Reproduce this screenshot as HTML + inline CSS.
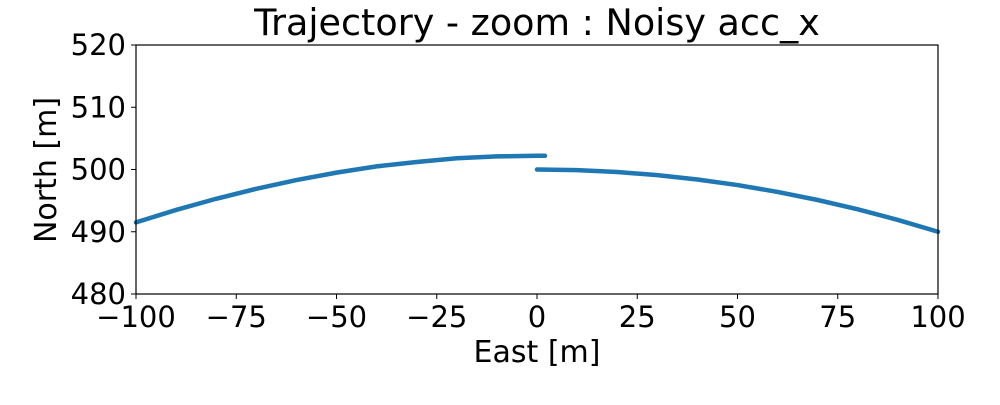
<!DOCTYPE html>
<html><head><meta charset="utf-8"><style>
body{margin:0;background:#fff;}
svg text{font-family:"DejaVu Sans","Liberation Sans",sans-serif;fill:#000;}
</style></head><body>
<svg id="chart" width="1000" height="400" xmlns="http://www.w3.org/2000/svg">
<text x="537" y="35" font-size="36.5" text-anchor="middle">Trajectory - zoom : Noisy acc_x</text>
<g id="plot"></g>
<rect x="136" y="45" width="802" height="249" fill="none" stroke="#000" stroke-width="1.2"/>
<g id="ticks"></g>
<text x="537" y="362" font-size="30" text-anchor="middle">East [m]</text>
<text transform="translate(56,170) rotate(-90)" font-size="30" text-anchor="middle">North [m]</text>
</svg>
<script>
const xTicks=[-100,-75,-50,-25,0,25,50,75,100];
const xTickLabels=['\u2212100','\u221275','\u221250','\u221225','0','25','50','75','100'];
const yTicks=[480,490,500,510,520];
const seg1East=[-100,-90,-80,-70,-60,-50,-40,-30,-20,-10,0,2];
const seg1North=[491.5,493.5,495.3,496.9,498.3,499.5,500.5,501.2,501.8,502.1,502.2,502.2];
const seg2East=[0,10,20,30,40,50,60,70,80,90,100];
const seg2North=[500,499.9,499.6,499.1,498.4,497.5,496.4,495.1,493.6,491.9,490];
const xS=v=>136+(v+100)/200*802;
const yS=v=>294-(v-480)/40*249;
const NS='http://www.w3.org/2000/svg';
const plot=document.getElementById('plot');
function seg(xs,ys,name){
  const p=document.createElementNS(NS,'polyline');
  
  
  p.setAttribute('points',xs.map((x,i)=>xS(x)+','+yS(ys[i])).join(' '));
  p.setAttribute('fill','none');p.setAttribute('stroke','#1f77b4');
  p.setAttribute('stroke-width','4.5');p.setAttribute('stroke-linecap','round');
  plot.appendChild(p);
}
seg(seg1East,seg1North,'trajectory-segment-1');
seg(seg2East,seg2North,'trajectory-segment-2');
const tg=document.getElementById('ticks');
xTicks.forEach((v,i)=>{
  const l=document.createElementNS(NS,'line');
  
  
  l.setAttribute('x1',xS(v));l.setAttribute('x2',xS(v));l.setAttribute('y1',294);l.setAttribute('y2',299);l.setAttribute('stroke','#000');
  tg.appendChild(l);
  const t=document.createElementNS(NS,'text');
  
  
  t.setAttribute('x',xS(v));t.setAttribute('y',327);t.setAttribute('font-size','29');t.setAttribute('text-anchor','middle');
  t.textContent=xTickLabels[i];tg.appendChild(t);
});
yTicks.forEach(v=>{
  const l=document.createElementNS(NS,'line');
  
  
  l.setAttribute('x1',131);l.setAttribute('x2',136);l.setAttribute('y1',yS(v));l.setAttribute('y2',yS(v));l.setAttribute('stroke','#000');
  tg.appendChild(l);
  const t=document.createElementNS(NS,'text');
  
  
  t.setAttribute('x',126);t.setAttribute('y',yS(v)+10);t.setAttribute('font-size','29');t.setAttribute('text-anchor','end');
  t.textContent=v;tg.appendChild(t);
});
</script>
</body></html>
